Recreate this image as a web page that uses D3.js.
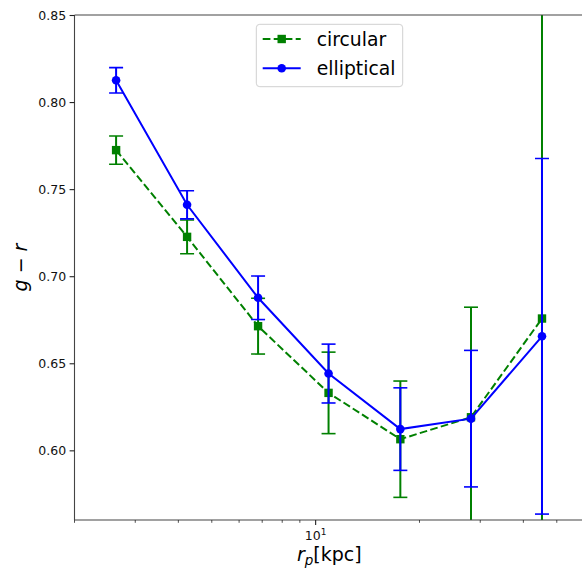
<!DOCTYPE html>
<html>
<head>
<meta charset="utf-8">
<script src="https://cdn.jsdelivr.net/npm/d3@7"></script>
<style>
  html, body { margin: 0; padding: 0; background: #fff; }
  svg { display: block; font-family: "DejaVu Sans", sans-serif; }
</style>
</head>
<body>
<svg id="chart" width="582" height="568"></svg>
<script>
// Projected radius bins (kpc)
const rp = [2.64, 4.24, 6.81, 10.9, 17.6, 28.2, 45.3];

// g - r colour and 1-sigma errors per bin
const circularColor = [0.7724, 0.7226, 0.6713, 0.6330, 0.6064, 0.6190, 0.6757];
const circularErr   = [0.0081, 0.0097, 0.0160, 0.0234, 0.0334, 0.0632, 0.2000];
const ellipticalColor = [0.8125, 0.7410, 0.6876, 0.6441, 0.6122, 0.6182, 0.6655];
const ellipticalErr   = [0.0073, 0.0081, 0.0125, 0.0169, 0.0237, 0.0392, 0.1021];

const yTicks = [0.60, 0.65, 0.70, 0.75, 0.80, 0.85];
const xMajorTicks = [10];
const xMinorTicks = [2, 3, 4, 5, 6, 7, 8, 9, 20, 30, 40, 50];

const series = [
  { name: "circular", values: circularColor, errs: circularErr, color: "green", marker: "square", dash: "7.7,3.3" },
  { name: "elliptical", values: ellipticalColor, errs: ellipticalErr, color: "blue", marker: "circle", dash: null }
];

const svg = d3.select("#chart");
const plotLeft = 74.5, plotRight = 584.1, plotTop = 15, plotBottom = 520;

const x = d3.scaleLog().domain([2, 60]).range([plotLeft, plotRight]);
const y = d3.scaleLinear().domain([0.56, 0.85]).range([plotBottom, plotTop]);

svg.append("defs").append("clipPath").attr("id", "plotclip")
  .append("rect").attr("x", plotLeft).attr("y", plotTop)
  .attr("width", plotRight - plotLeft).attr("height", plotBottom - plotTop);

const plot = svg.append("g").attr("clip-path", "url(#plotclip)");
const capHalf = 7;

series.forEach(s => {
  const g = plot.append("g");
  const pts = rp.map((r, i) => ({ r, v: s.values[i], e: s.errs[i] }));

  // error bars with caps
  pts.forEach(p => {
    const cx = x(p.r);
    g.append("line").attr("x1", cx).attr("x2", cx)
      .attr("y1", y(p.v - p.e)).attr("y2", y(p.v + p.e))
      .attr("stroke", s.color).attr("stroke-width", 2);
    [p.v - p.e, p.v + p.e].forEach(v => {
      g.append("line").attr("x1", cx - capHalf).attr("x2", cx + capHalf)
        .attr("y1", y(v)).attr("y2", y(v))
        .attr("stroke", s.color).attr("stroke-width", 1.6);
    });
  });

  // connecting line
  const line = d3.line().x(p => x(p.r)).y(p => y(p.v));
  g.append("path").datum(pts).attr("d", line)
    .attr("fill", "none").attr("stroke", s.color).attr("stroke-width", 2)
    .attr("stroke-dasharray", s.dash);

  // markers
  pts.forEach(p => {
    const cx = x(p.r), cy = y(p.v);
    if (s.marker === "circle") {
      g.append("circle").attr("cx", cx).attr("cy", cy).attr("r", 4.3).attr("fill", s.color);
    } else {
      g.append("rect").attr("x", cx - 4.2).attr("y", cy - 4.2)
        .attr("width", 8.4).attr("height", 8.4).attr("fill", s.color);
    }
  });
});

// spines
const spineColor = "#444";
[[plotLeft, plotTop, plotLeft, plotBottom],
 [plotLeft, plotBottom, plotRight, plotBottom],
 [plotLeft, plotTop, plotRight, plotTop],
 [plotRight, plotTop, plotRight, plotBottom]].forEach(([x1, y1, x2, y2]) => {
  svg.append("line").attr("x1", x1).attr("y1", y1).attr("x2", x2).attr("y2", y2)
    .attr("stroke", spineColor).attr("stroke-width", 1.1);
});

// y axis
const yAxis = d3.axisLeft(y).tickValues(yTicks).tickFormat(d3.format(".2f"))
  .tickSize(4.9).tickPadding(3.5);
const yg = svg.append("g").attr("transform", `translate(${plotLeft},0)`).call(yAxis);
yg.select(".domain").remove();
yg.selectAll(".tick line").attr("stroke", "#222").attr("stroke-width", 1.1);
yg.selectAll(".tick text").attr("font-size", 12.5).attr("fill", "#111")
  .attr("font-family", "DejaVu Sans");

// x axis: major and minor ticks
const xg = svg.append("g").attr("transform", `translate(0,${plotBottom})`);
xMinorTicks.forEach(t => {
  xg.append("line").attr("x1", x(t)).attr("x2", x(t)).attr("y1", 0).attr("y2", 2.8)
    .attr("stroke", "#222").attr("stroke-width", 0.8);
});
xMajorTicks.forEach(t => {
  xg.append("line").attr("x1", x(t)).attr("x2", x(t)).attr("y1", 0).attr("y2", 4.9)
    .attr("stroke", "#222").attr("stroke-width", 1.1);
  const txt = xg.append("text").attr("x", x(t)).attr("y", 20)
    .attr("text-anchor", "middle").attr("font-size", 12.5).attr("fill", "#111");
  txt.append("tspan").text("10");
  txt.append("tspan").attr("dy", -5).attr("font-size", 9).text(Math.log10(t).toFixed(0));
});

// axis labels
const xl = svg.append("text").attr("x", (plotLeft + plotRight) / 2).attr("y", 561)
  .attr("text-anchor", "middle").attr("font-size", 19).attr("fill", "#000");
xl.append("tspan").attr("font-style", "italic").text("r");
xl.append("tspan").attr("font-style", "italic").attr("font-size", 13.5).attr("dy", 4).text("p");
xl.append("tspan").attr("dy", -4).text("[kpc]");

const yl = svg.append("text")
  .attr("transform", `translate(27,${(plotTop + plotBottom) / 2}) rotate(-90)`)
  .attr("text-anchor", "middle").attr("font-size", 19).attr("fill", "#000");
yl.append("tspan").attr("font-style", "italic").text("g");
yl.append("tspan").text(" \u2212 ");
yl.append("tspan").attr("font-style", "italic").text("r");

// legend
const lg = svg.append("g");
lg.append("rect").attr("x", 256.3).attr("y", 24.3).attr("width", 146.4).attr("height", 62.4)
  .attr("rx", 3.5).attr("fill", "#fff").attr("fill-opacity", 0.8)
  .attr("stroke", "#d0d0d0").attr("stroke-width", 1);
series.forEach((s, i) => {
  const cy = 39 + i * 29.3;
  lg.append("line").attr("x1", 262.7).attr("x2", 300.7).attr("y1", cy).attr("y2", cy)
    .attr("stroke", s.color).attr("stroke-width", 2).attr("stroke-dasharray", s.dash);
  if (s.marker === "circle") {
    lg.append("circle").attr("cx", 281.7).attr("cy", cy).attr("r", 4.3).attr("fill", s.color);
  } else {
    lg.append("rect").attr("x", 281.7 - 4.2).attr("y", cy - 4.2)
      .attr("width", 8.4).attr("height", 8.4).attr("fill", s.color);
  }
  lg.append("text").attr("x", 316.7).attr("y", cy + 7)
    .attr("font-size", 18.8).attr("fill", "#000").text(s.name);
});
</script>
</body>
</html>
